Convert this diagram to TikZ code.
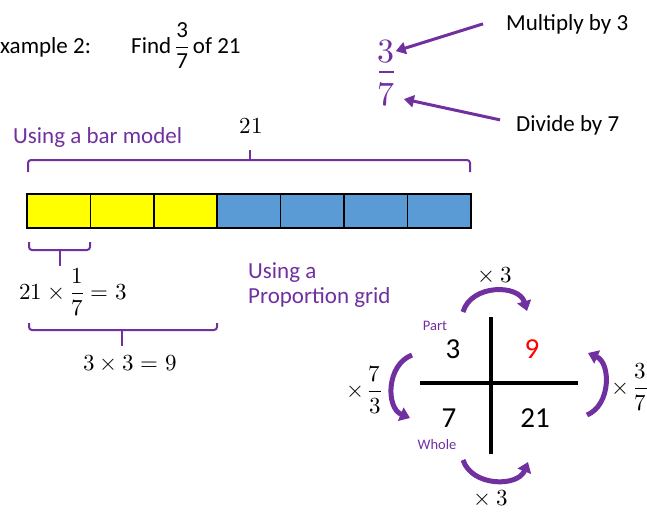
\documentclass[tikz,border=0pt]{standalone}
\usepackage{fontspec}
\usepackage{unicode-math}
\setmainfont{Carlito}
\setmathfont{Latin Modern Math}
\usetikzlibrary{arrows.meta,positioning}
\definecolor{barpurple}{HTML}{7030A0}
\definecolor{barblue}{HTML}{5B9BD5}
\definecolor{baryellow}{HTML}{FFFF00}
\tikzset{
  txt/.style={
    inner sep = 0pt,
    font = \fontsize{23}{28}\selectfont
  },
  ptxt/.style={
    txt,
    text = barpurple
  },
  cell/.style={
    draw,
    line width = 1.5pt,
    minimum width = 63.4pt,
    minimum height = 34pt,
    inner sep = 0pt,
    outer sep = 0pt
  },
  brace/.style={
    draw = barpurple,
    line width = 2pt,
    rounded corners = 3pt
  },
  ptr/.style={
    draw = barpurple,
    line width = 3pt,
    -{Triangle[length=10pt,width=12pt]}
  },
  turn/.style={
    draw = barpurple,
    line width = 5pt,
    -{Triangle[length=10pt,width=14pt]}
  },
  gridnum/.style={
    inner sep = 0pt,
    font = \fontsize{29}{34}\selectfont
  },
  tag/.style={
    inner sep = 0pt,
    text = barpurple,
    font = \fontsize{14.5}{17}\selectfont
  },
}
\begin{document}
\begin{tikzpicture}[x=1pt,y=-1pt]
  \useasboundingbox (0,0) rectangle (647,512);
  % heading
  \node[txt,anchor=base west] (head) at (0,53) {xample 2:};
  \node[txt,anchor=base west] (find) at (131,53) {Find\,$\dfrac{\text{3}}{\text{7}}$\,of 21};
  % fraction with its two meanings
  \node[fill=barpurple,minimum width=15pt,minimum height=1.6pt,inner sep=0pt] (fbar) at (386,72) {};
  \node[above=8pt of fbar,inner sep=0pt,text=barpurple,font=\fontsize{34}{40}\selectfont] (fnum) {$3$};
  \node[below=9pt of fbar,inner sep=0pt,text=barpurple,font=\fontsize{34}{40}\selectfont] (fden) {$7$};
  \node[txt,anchor=base west] (mul) at (506,30) {Multiply by 3};
  \node[txt,anchor=base west] (div) at (516,131) {Divide by 7};
  \draw[ptr] ([xshift=-23pt]mul.west) -- ([xshift=1pt]fnum.east);
  \draw[ptr] ([xshift=-16pt,yshift=5pt]div.west) -- ([xshift=9pt,yshift=-5pt]fden.east);
  % bar model
  \node[ptxt,anchor=base west] (barmodel) at (13,143) {Using a bar model};
  \foreach \i in {0,...,6}{
    \ifnum\i<3
      \node[cell,fill=baryellow] (c\i) at (58.7+63.4*\i,211) {};
    \else
      \node[cell,fill=barblue] (c\i) at (58.7+63.4*\i,211) {};
    \fi
  }
  \draw[brace] (28,172) -- (28,160) -- (470,160) -- (470,172);
  \draw[brace] (250,160) -- (250,150);
  \node[txt] (whole) at (251,126) {$21$};
  \draw[brace] (29,242) -- (29,250) -- (90,250) -- (90,242);
  \draw[brace] (60,250) -- (60,266);
  \node[txt,anchor=west] (onepart) at (19,292) {$21\times\dfrac{1}{7}=3$};
  \draw[brace] (29,323) -- (29,330) -- (217,330) -- (217,323);
  \draw[brace] (122,330) -- (122,346);
  \node[txt] (threeparts) at (130,363) {$3\times3=9$};
  % proportion grid
  \node[ptxt,anchor=base west] (usinga) at (248,278) {Using a};
  \node[ptxt,anchor=base west] (propgrid) at (248,303) {Proportion grid};
  \coordinate (gt) at (491,317);
  \coordinate (gb) at (491,454);
  \coordinate (gl) at (420,383);
  \coordinate (gr) at (578,383);
  \draw[line width=4pt] (gt) -- (gb);
  \draw[line width=4pt] (gl) -- (gr);
  \node[gridnum] (p3) at (453,349) {3};
  \node[gridnum,text=red] (p9) at (532,349) {9};
  \node[gridnum] (w7) at (449,418) {7};
  \node[gridnum] (w21) at (535,418) {21};
  \node[tag] (part) at (435,326) {Part};
  \node[tag] (wholetag) at (437,445) {Whole};
  % turning arrows
  \draw[turn] (463,312) .. controls (471,284) and (519,284) .. (527,311);
  \draw[turn] (463,460) .. controls (472,487) and (518,487) .. (528,462);
  \draw[turn] (412,355) .. controls (386,365) and (386,408) .. (410,418);
  \draw[turn] (587,415) .. controls (611,405) and (611,363) .. (588,353);
  \node[txt] (topx) at (495,275) {$\times\:3$};
  \node[txt] (botx) at (491,498) {$\times\:3$};
  \node[txt] (leftx) at (364,390) {$\times\,\dfrac{7}{3}$};
  \node[txt,anchor=east] (rightx) at (648,387) {$\times\,\dfrac{3}{7}$};
\end{tikzpicture}
\end{document}
